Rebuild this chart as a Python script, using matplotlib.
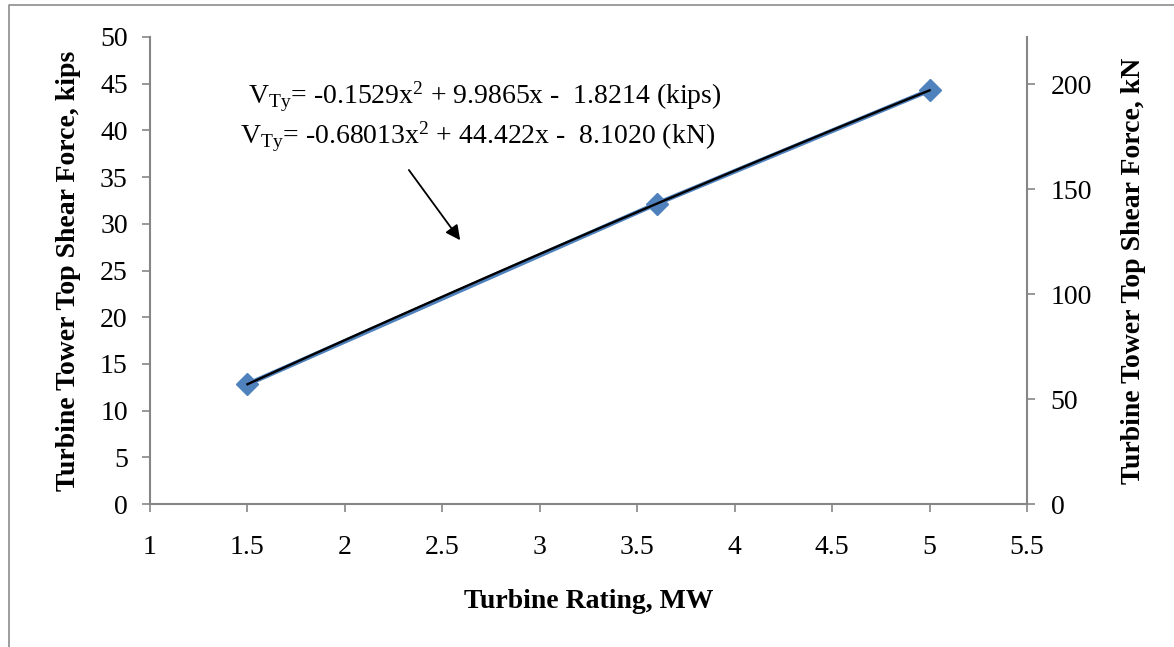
import numpy as np
import matplotlib
matplotlib.use('Agg')
import matplotlib.pyplot as plt
from matplotlib.lines import Line2D

plt.rcParams['font.family'] = ['Liberation Serif', 'DejaVu Serif']
plt.rcParams['mathtext.fontset'] = 'custom'
plt.rcParams['mathtext.rm'] = 'Liberation Serif'
plt.rcParams['mathtext.it'] = 'Liberation Serif:italic'
plt.rcParams['mathtext.bf'] = 'Liberation Serif:bold'

# data
rating_mw = [1.5, 3.6, 5.0]
shear_kips = [12.82, 32.15, 44.29]
kips_to_kn = 4.448

x_ticks = [1, 1.5, 2, 2.5, 3, 3.5, 4, 4.5, 5, 5.5]
y_ticks = [0, 5, 10, 15, 20, 25, 30, 35, 40, 45, 50]
kn_ticks = [0, 50, 100, 150, 200]

eq_kips = r'V$_{\mathrm{Ty}}$= -0.1529x$^{2}$ + 9.9865x -  1.8214 (kips)'
eq_kn = r'V$_{\mathrm{Ty}}$= -0.68013x$^{2}$ + 44.422x -  8.1020 (kN)'

blue = '#4F81BD'
axis_gray = '#868686'
fs = 20

fig = plt.figure(figsize=(11.74, 6.47), dpi=100)
ax = fig.add_axes([150 / 1174, 1 - 504 / 647, (1027 - 150) / 1174, (504 - 37) / 647])

ax.plot(rating_mw, shear_kips, color=blue, lw=3.4, marker='D', ms=11,
        mfc=blue, mec=blue, zorder=3)

# polynomial trendline
coef = np.polyfit(rating_mw, shear_kips, 2)
xs = np.linspace(min(rating_mw), max(rating_mw), 100)
ax.plot(xs, np.polyval(coef, xs), color='black', lw=1.7, zorder=4)

ax.set_xlim(1, 5.5)
ax.set_ylim(0, 50)
ax.set_xticks(x_ticks)
ax.set_xticklabels([('%g' % t) for t in x_ticks])
ax.set_yticks(y_ticks)

ax2 = ax.twinx()
ax2.set_ylim(0, 50 * kips_to_kn)
ax2.set_yticks(kn_ticks)

for a in (ax, ax2):
    for s in a.spines.values():
        s.set_color(axis_gray)
        s.set_linewidth(1.5)
    a.spines['top'].set_visible(False)
ax.spines['right'].set_visible(False)
ax2.spines['left'].set_visible(False)
ax2.spines['bottom'].set_visible(False)

ax.tick_params(axis='x', direction='out', length=6, width=1.2, color=axis_gray,
               labelsize=fs, pad=16)
ax.tick_params(axis='y', direction='out', length=6, width=1.2, color=axis_gray,
               labelsize=fs, pad=10)
ax2.tick_params(axis='y', direction='out', length=6, width=1.2, color=axis_gray,
                labelsize=fs, pad=11)

ax.set_xlabel('Turbine Rating, MW', fontsize=fs, fontweight='bold', va='center')
ax.xaxis.set_label_coords(0.5, -0.208)
ax.set_ylabel('Turbine Tower Top Shear Force, kips', fontsize=fs,
              fontweight='bold', va='center')
ax.yaxis.set_label_coords(-0.0935, 0.5)
ax2.set_ylabel('Turbine Tower Top Shear Force, kN', fontsize=fs,
               fontweight='bold', rotation=90, va='center')
ax2.yaxis.set_label_coords(1.121, 0.5)

ax.text(485 / 1174, 1 - 97 / 647, eq_kips, transform=fig.transFigure,
        fontsize=fs, ha='center', va='center')
ax.text(478 / 1174, 1 - 137 / 647, eq_kn, transform=fig.transFigure,
        fontsize=fs, ha='center', va='center')

ax.annotate('', xy=(2.6, 28.0), xytext=(2.32, 36.0),
            arrowprops=dict(arrowstyle='-|>', color='black', lw=1.3,
                            mutation_scale=22))

# chart frame
fx = 9 / 1174
fy = 1 - 5 / 647
fig.add_artist(Line2D([fx, fx, 1], [0, fy, fy], transform=fig.transFigure,
                      color='#8c8c8c', lw=1.2))

fig.savefig('out.png', dpi=100)
